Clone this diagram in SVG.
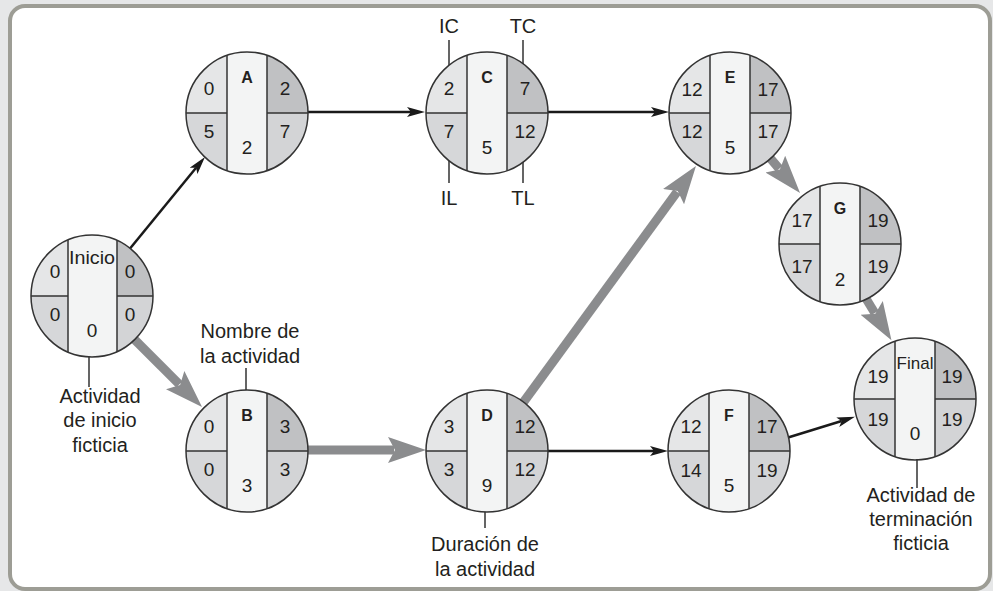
<svg xmlns="http://www.w3.org/2000/svg" xmlns:xlink="http://www.w3.org/1999/xlink" width="993" height="591" viewBox="0 0 993 591">
<style>
text{font-family:"Liberation Sans",Arial,sans-serif;fill:#231f20;text-anchor:middle}
.n{font-size:19px}
.nm{font-size:16px;font-weight:bold}
.lb{font-size:20px}
.blk{stroke:#1a1a1a;stroke-width:2.5;fill:none;marker-end:url(#ah)}
.gry{stroke:#8b8c8e;stroke-width:9;fill:none;marker-end:url(#gh)}
.ld{stroke:#333;stroke-width:1.5}
.lt{fill:#e5e6e7}.lbq{fill:#d6d7d9}.ct{fill:#f3f4f4}.rt{fill:#c0c1c3}.rb{fill:#d3d4d6}
.dv{stroke:#333;stroke-width:1.5;fill:none}
</style>
<defs>
<clipPath id="cc"><circle r="61"/></clipPath>
<marker id="ah" viewBox="0 0 18 10" refX="4" refY="5" markerWidth="18" markerHeight="10" markerUnits="userSpaceOnUse" orient="auto"><path d="M0,0 L18,5 L0,10 L4,5 z" fill="#1a1a1a"/></marker>
<marker id="gh" viewBox="0 0 38 28" refX="6" refY="14" markerWidth="38" markerHeight="28" markerUnits="userSpaceOnUse" orient="auto"><path d="M0,1 L38,14 L0,27 L7,14 z" fill="#8b8c8e"/></marker>
<g id="nodebg">
<g clip-path="url(#cc)">
<rect class="lt" x="-61" y="-61" width="41" height="61"/>
<rect class="lbq" x="-61" y="0" width="41" height="61"/>
<rect class="ct" x="-20" y="-61" width="40" height="122"/>
<rect class="rt" x="20" y="-61" width="41" height="61"/>
<rect class="rb" x="20" y="0" width="41" height="61"/>
<path class="dv" d="M-20,-61V61M20,-61V61M-61,0H-20M20,0H61"/>
</g>
<circle r="61" fill="none" stroke="#333" stroke-width="1.5"/>
</g>
</defs>
<rect x="0" y="0" width="993" height="591" fill="#e6e7e8"/>
<rect x="10" y="6" width="980" height="583" rx="15" fill="#fff" stroke="#9d9d95" stroke-width="4"/>

<g id="connectors">
<line class="blk" x1="128" y1="251" x2="196.1" y2="167.8"/>
<line class="blk" x1="300" y1="112" x2="411" y2="112"/>
<line class="blk" x1="540" y1="112" x2="655" y2="112"/>
<line class="blk" x1="540" y1="451" x2="654" y2="451"/>
<line class="blk" x1="780" y1="440" x2="841.6" y2="421"/>
<line class="gry" x1="128" y1="333" x2="179.4" y2="384.4"/>
<line class="gry" x1="300" y1="450" x2="394" y2="450"/>
<line class="gry" x1="517" y1="411" x2="677.1" y2="191.8"/>
<line class="gry" x1="764" y1="151" x2="779.2" y2="168.7"/>
<line class="gry" x1="862" y1="292" x2="874.8" y2="313"/>
</g>

<g id="node-inicio" transform="translate(92,296)">
<g clip-path="url(#cc)">
<rect class="lt" x="-61" y="-61" width="37" height="61"/>
<rect class="lbq" x="-61" y="0" width="37" height="61"/>
<rect class="ct" x="-24" y="-61" width="49" height="122"/>
<rect class="rt" x="25" y="-61" width="36" height="61"/>
<rect class="rb" x="25" y="0" width="36" height="61"/>
<path class="dv" d="M-24,-61V61M25,-61V61M-61,0H-24M25,0H61"/>
</g>
<circle r="61" fill="none" stroke="#333" stroke-width="1.5"/>
<text class="n" x="0" y="-32" textLength="46" lengthAdjust="spacingAndGlyphs">Inicio</text>
<text class="n" x="-37" y="-18">0</text><text class="n" x="38" y="-18">0</text>
<text class="n" x="-37" y="25">0</text><text class="n" x="38" y="25">0</text>
<text class="n" x="0" y="41">0</text>
</g>

<g id="node-A" transform="translate(247,113)">
<use xlink:href="#nodebg" href="#nodebg"/>
<text class="nm" x="0" y="-30">A</text>
<text class="n" x="-38" y="-18">0</text><text class="n" x="38" y="-18">2</text>
<text class="n" x="-38" y="25">5</text><text class="n" x="38" y="25">7</text>
<text class="n" x="0" y="41">2</text>
</g>

<g id="node-C" transform="translate(487,113)">
<use xlink:href="#nodebg" href="#nodebg"/>
<text class="nm" x="0" y="-30">C</text>
<text class="n" x="-38" y="-18">2</text><text class="n" x="38" y="-18">7</text>
<text class="n" x="-38" y="25">7</text><text class="n" x="38" y="25">12</text>
<text class="n" x="0" y="41">5</text>
</g>

<g id="node-E" transform="translate(730,113)">
<use xlink:href="#nodebg" href="#nodebg"/>
<text class="nm" x="0" y="-30">E</text>
<text class="n" x="-38" y="-17">12</text><text class="n" x="38" y="-17">17</text>
<text class="n" x="-38" y="25">12</text><text class="n" x="38" y="25">17</text>
<text class="n" x="0" y="41">5</text>
</g>

<g id="node-G" transform="translate(840,244)">
<use xlink:href="#nodebg" href="#nodebg"/>
<text class="nm" x="0" y="-30">G</text>
<text class="n" x="-38" y="-17">17</text><text class="n" x="38" y="-17">19</text>
<text class="n" x="-38" y="29">17</text><text class="n" x="38" y="29">19</text>
<text class="n" x="0" y="42">2</text>
</g>

<g id="node-B" transform="translate(247,451)">
<use xlink:href="#nodebg" href="#nodebg"/>
<text class="nm" x="0" y="-30">B</text>
<text class="n" x="-38" y="-18">0</text><text class="n" x="38" y="-18">3</text>
<text class="n" x="-38" y="25">0</text><text class="n" x="38" y="25">3</text>
<text class="n" x="0" y="41">3</text>
</g>

<g id="node-D" transform="translate(487,451)">
<use xlink:href="#nodebg" href="#nodebg"/>
<text class="nm" x="0" y="-30">D</text>
<text class="n" x="-38" y="-18">3</text><text class="n" x="38" y="-18">12</text>
<text class="n" x="-38" y="25">3</text><text class="n" x="38" y="25">12</text>
<text class="n" x="0" y="41">9</text>
</g>

<g id="node-F" transform="translate(729,451)">
<use xlink:href="#nodebg" href="#nodebg"/>
<text class="nm" x="0" y="-30">F</text>
<text class="n" x="-38" y="-18">12</text><text class="n" x="38" y="-18">17</text>
<text class="n" x="-38" y="26">14</text><text class="n" x="38" y="26">19</text>
<text class="n" x="0" y="41">5</text>
</g>

<g id="node-final" transform="translate(915,399)">
<use xlink:href="#nodebg" href="#nodebg"/>
<text x="0" y="-30" style="font-size:17px">Final</text>
<text class="n" x="-37" y="-16">19</text><text class="n" x="37" y="-16">19</text>
<text class="n" x="-37" y="27">19</text><text class="n" x="37" y="27">19</text>
<text class="n" x="0" y="41">0</text>
</g>

<g id="annotations">
<path class="ld" d="M449,40V65M523,40V64M449,161V183M523,162V183M89,357V387M246,368V390M485,512V528M917,459V488"/>
<text class="lb" x="449" y="33">IC</text>
<text class="lb" x="523" y="33">TC</text>
<text class="lb" x="449" y="205">IL</text>
<text class="lb" x="523" y="205">TL</text>
<text class="lb" x="100" y="403">Actividad</text>
<text class="lb" x="100" y="427">de inicio</text>
<text class="lb" x="100" y="452">ficticia</text>
<text class="lb" x="250" y="338">Nombre de</text>
<text class="lb" x="250" y="363">la actividad</text>
<text class="lb" x="485" y="551">Duración de</text>
<text class="lb" x="485" y="576">la actividad</text>
<text class="lb" x="921" y="502">Actividad de</text>
<text class="lb" x="921" y="526">terminación</text>
<text class="lb" x="921" y="550">ficticia</text>
</g>
</svg>
